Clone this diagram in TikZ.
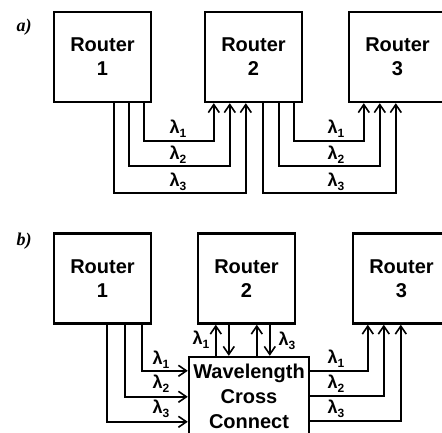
\documentclass[tikz,border=0pt]{standalone}
\usepackage{fontspec}
\setmainfont{Liberation Sans}
\newfontfamily\tagfont{Liberation Serif}
\usetikzlibrary{arrows.meta}
\newcommand\lamsub[1]{λ\raisebox{-4pt}{\fontsize{12}{12}\selectfont #1}}
\begin{document}
\begin{tikzpicture}[x=1pt,y=-1pt,
  box/.style={draw, line width=2.4pt, minimum width=97pt, minimum height=90pt,
    align=center, inner sep=0pt, font=\bfseries\fontsize{20}{24}\selectfont},
  wxcbox/.style={draw, line width=2.4pt, minimum width=120pt, minimum height=78pt,
    align=center, inner sep=0pt, font=\bfseries\fontsize{20}{25}\selectfont},
  arr/.style={line width=1.6pt, -{Straight Barb[length=8pt,width=11pt]}},
  lam/.style={inner sep=0pt, font=\bfseries\fontsize{18}{18}\selectfont},
  tag/.style={inner sep=0pt, font=\tagfont\bfseries\itshape\fontsize{18}{18}\selectfont}]
\useasboundingbox (0,0) rectangle (442,433);
\clip (0,0) rectangle (442,433);

% ---------- panel a ----------
\node[tag] (ta) at (24,27) {a)};
\node[box] (r1a) at (102.5,57) {Router\\1};
\node[box] (r2a) at (253.5,57) {Router\\2};
\node[box] (r3a) at (397.5,57) {Router\\3};

\draw[arr] ([xshift=91]r1a.south west) -- ++(0,38) -| ([xshift=10]r2a.south west);
\draw[arr] ([xshift=76]r1a.south west) -- ++(0,63) -| ([xshift=26]r2a.south west);
\draw[arr] ([xshift=61]r1a.south west) -- ++(0,90) -| ([xshift=42]r2a.south west);

\draw[arr] ([xshift=90]r2a.south west) -- ++(0,38) -| ([xshift=16]r3a.south west);
\draw[arr] ([xshift=75]r2a.south west) -- ++(0,63) -| ([xshift=32]r3a.south west);
\draw[arr] ([xshift=59]r2a.south west) -- ++(0,90) -| ([xshift=48]r3a.south west);

\node[lam] (la1) at (178,128.5) {\lamsub{1}};
\node[lam] (la2) at (178,154.5) {\lamsub{2}};
\node[lam] (la3) at (178,181.5) {\lamsub{3}};
\node[lam] (lb1) at (336,128.5) {\lamsub{1}};
\node[lam] (lb2) at (336,154.5) {\lamsub{2}};
\node[lam] (lb3) at (336,181.5) {\lamsub{3}};

% ---------- panel b ----------
\node[tag] (tb) at (24,241) {b)};
\node[box] (r1b) at (102.5,278.5) {Router\\1};
\node[box] (r2b) at (246.5,278.5) {Router\\2};
\node[box] (r3b) at (401.5,278.5) {Router\\3};
\node[wxcbox] (wxc) at (249,396) {Wavelength\\Cross\\Connect};

\draw[arr] ([xshift=89]r1b.south west) |- ([yshift=-15]wxc.north west);
\draw[arr] ([xshift=72]r1b.south west) |- ([yshift=-41]wxc.north west);
\draw[arr] ([xshift=54]r1b.south west) |- ([yshift=-66]wxc.north west);

\coordinate (m1) at ([xshift=19]r2b.south west);
\coordinate (m2) at ([xshift=32]r2b.south west);
\coordinate (m3) at ([xshift=60]r2b.south west);
\coordinate (m4) at ([xshift=73]r2b.south west);
\draw[arr] (m1 |- wxc.north) -- (m1);
\draw[arr] (m2) -- (m2 |- wxc.north);
\draw[arr] (m3 |- wxc.north) -- (m3);
\draw[arr] (m4) -- (m4 |- wxc.north);

\draw[arr] ([yshift=-15]wxc.north east) -| ([xshift=16]r3b.south west);
\draw[arr] ([yshift=-40]wxc.north east) -| ([xshift=32]r3b.south west);
\draw[arr] ([yshift=-65]wxc.north east) -| ([xshift=49]r3b.south west);

\node[lam] (lc1) at (161,360) {\lamsub{1}};
\node[lam] (lc2) at (161,384) {\lamsub{2}};
\node[lam] (lc3) at (161,409) {\lamsub{3}};
\node[lam] (ld1) at (201,340) {\lamsub{1}};
\node[lam] (ld3) at (287,341) {\lamsub{3}};
\node[lam] (le1) at (336,358.5) {\lamsub{1}};
\node[lam] (le2) at (336,383.5) {\lamsub{2}};
\node[lam] (le3) at (336,408.5) {\lamsub{3}};
\end{tikzpicture}
\end{document}
